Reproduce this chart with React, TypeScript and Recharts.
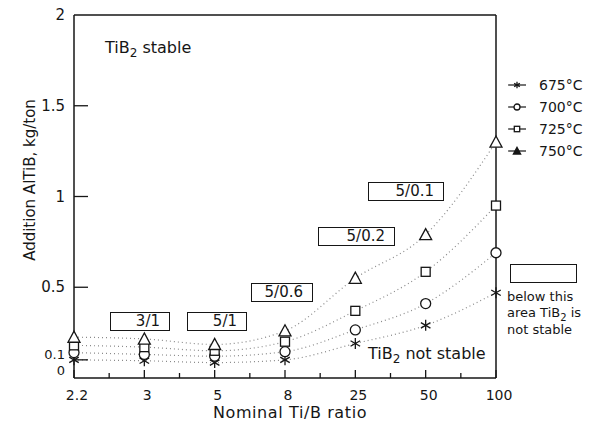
import React from 'react';
import { LineChart, Line, XAxis, YAxis, ReferenceLine } from 'recharts';

// Nominal Ti/B ratio categories (evenly spaced on the axis)
const categories = ['2.2', '3', '5', '8', '25', '50', '100'];

// AlTiB addition, kg/ton, per melt temperature
const t675 = [0.10, 0.095, 0.085, 0.10, 0.19, 0.29, 0.47];
const t700 = [0.14, 0.13, 0.12, 0.145, 0.265, 0.41, 0.69];
const t725 = [0.18, 0.17, 0.15, 0.20, 0.37, 0.585, 0.95];
const t750 = [0.225, 0.215, 0.185, 0.26, 0.55, 0.79, 1.30];

const yTicks = [0, 0.1, 0.5, 1, 1.5, 2];
const xTicks = [0, 0.5, 1, 1.5, 2, 2.5, 3, 3.5, 4, 4.5, 5, 5.5, 6];

const series = [
  { key: 't675', name: '675°C', marker: 'star' },
  { key: 't700', name: '700°C', marker: 'circle' },
  { key: 't725', name: '725°C', marker: 'square' },
  { key: 't750', name: '750°C', marker: 'triangle' },
];

const data = categories.map((c, i) => ({
  i,
  label: c,
  t675: t675[i],
  t700: t700[i],
  t725: t725[i],
  t750: t750[i],
}));

const INK = '#161616';
const FONT = '"DejaVu Sans", sans-serif';

const Marker = ({ kind, cx, cy, s = 1, filled = false }: any) => {
  const sw = 1.3;
  if (kind === 'star') {
    const r = 5.5 * s;
    return (
      <g stroke={INK} strokeWidth={sw}>
        {[90, 30, 150].map((a) => {
          const dx = r * Math.cos((a * Math.PI) / 180);
          const dy = r * Math.sin((a * Math.PI) / 180);
          return <line key={a} x1={cx - dx} y1={cy - dy} x2={cx + dx} y2={cy + dy} />;
        })}
      </g>
    );
  }
  if (kind === 'circle') {
    return <circle cx={cx} cy={cy} r={5 * s} fill={filled ? INK : '#fff'} stroke={INK} strokeWidth={sw} />;
  }
  if (kind === 'square') {
    const h = 4.5 * s;
    return <rect x={cx - h} y={cy - h} width={2 * h} height={2 * h} fill={filled ? INK : '#fff'} stroke={INK} strokeWidth={sw} />;
  }
  const h = 6 * s;
  return (
    <polygon
      points={`${cx},${cy - h} ${cx - h},${cy + h * 0.85} ${cx + h},${cy + h * 0.85}`}
      fill={filled ? INK : '#fff'}
      stroke={INK}
      strokeWidth={sw}
    />
  );
};

const XTick = ({ x, y, payload }: any) => {
  const v = payload.value;
  const major = Number.isInteger(v);
  return (
    <g>
      <line x1={x} x2={x} y1={y} y2={y - (major ? 8 : 5)} stroke={INK} strokeWidth={1.3} />
      {major && (
        <text x={x + 3} y={y + 22} textAnchor="middle" fontSize={14} fontFamily={FONT} fill={INK}>
          {categories[v]}
        </text>
      )}
    </g>
  );
};

const YTick = ({ x, y, payload }: any) => {
  const v = payload.value;
  const dy = v === 0 ? -8 : v === 0.1 ? -6 : 0;
  return (
    <g>
      {v > 0 && v < 2 && <line x1={x} x2={x + 14} y1={y} y2={y} stroke={INK} strokeWidth={1.3} />}
      <text x={x - 9} y={y + dy + 5} textAnchor="end" fontSize={v < 0.5 ? 13 : 15} fontFamily={FONT} fill={INK}>
        {v}
      </text>
    </g>
  );
};

const boxStyle = (left: number, top: number, width: number): React.CSSProperties => ({
  position: 'absolute',
  left,
  top,
  width,
  height: 19,
  border: `1.5px solid ${INK}`,
  boxSizing: 'border-box',
  fontFamily: FONT,
  fontSize: 15,
  color: INK,
  textAlign: 'right',
  paddingRight: 9,
  lineHeight: '16px',
  background: '#fff',
});

const text = (left: number, top: number, size: number): React.CSSProperties => ({
  position: 'absolute',
  left,
  top,
  fontFamily: FONT,
  fontSize: size,
  color: INK,
  whiteSpace: 'nowrap',
  lineHeight: 1,
});

const Sub = ({ size }: { size: number }) => (
  <span style={{ fontSize: size, position: 'relative', top: size * 0.35 }}>2</span>
);

export default function App() {
  return (
    <div style={{ position: 'absolute', left: 0, top: 0, width: 602, height: 427, background: '#fff', overflow: 'hidden' }}>
      <LineChart width={602} height={427} data={data} margin={{ top: 15, right: 106, bottom: 19, left: 14 }}>
        <XAxis
          dataKey="i"
          type="number"
          domain={[0, 6]}
          ticks={xTicks}
          interval={0}
          tickSize={0}
          tickMargin={0}
          tickLine={false}
          tick={<XTick />}
          height={30}
          axisLine={{ stroke: INK, strokeWidth: 1.5 }}
        />
        <YAxis
          type="number"
          domain={[0, 2]}
          ticks={yTicks}
          interval={0}
          tickSize={0}
          tickMargin={0}
          tickLine={false}
          tick={<YTick />}
          width={60}
          axisLine={{ stroke: INK, strokeWidth: 1.5 }}
        />
        <ReferenceLine y={2} stroke={INK} strokeWidth={1.5} />
        <ReferenceLine x={6} stroke={INK} strokeWidth={1.5} />
        {series.map((s) => (
          <Line
            key={s.key}
            dataKey={s.key}
            name={s.name}
            type="monotone"
            stroke="#8a8a8a"
            strokeWidth={1.2}
            strokeDasharray="1 3"
            isAnimationActive={false}
            dot={(p: any) => <Marker key={`${s.key}-${p.index}`} kind={s.marker} cx={p.cx} cy={p.cy} />}
            activeDot={false}
          />
        ))}
      </LineChart>

      {/* legend */}
      <div style={{ position: 'absolute', left: 505, top: 74, fontFamily: FONT, fontSize: 14, color: INK }}>
        {series.map((s) => (
          <div key={s.key} style={{ display: 'flex', alignItems: 'center', height: 22 }}>
            <svg width={34} height={14}>
              <line x1={3} x2={21} y1={7} y2={7} stroke={INK} strokeWidth={1.2} />
              <Marker kind={s.marker} cx={12} cy={7} s={0.6} filled={s.marker === 'triangle' || s.marker === 'star'} />
            </svg>
            <span>{s.name}</span>
          </div>
        ))}
      </div>

      <div style={text(105, 40, 16)}>
        TiB<Sub size={12} /> stable
      </div>
      <div style={text(368, 346, 16)}>
        TiB<Sub size={12} /> not stable
      </div>

      <div style={boxStyle(110, 312, 60)}>3/1</div>
      <div style={boxStyle(187, 312, 60)}>5/1</div>
      <div style={boxStyle(251, 283, 62)}>5/0.6</div>
      <div style={boxStyle(318, 227, 77)}>5/0.2</div>
      <div style={boxStyle(368, 182, 76)}>5/0.1</div>
      <div style={{ ...boxStyle(510, 264, 67), height: 19 }} />

      <div style={text(507, 290, 13)}>below this</div>
      <div style={text(507, 306, 13)}>
        area TiB<Sub size={10} /> is
      </div>
      <div style={text(507, 323, 13)}>not stable</div>

      <div style={{ ...text(30, 180, 15), transform: 'translate(-50%, -50%) rotate(-90deg)' }}>
        Addition AlTiB, kg/ton
      </div>
      <div style={{ ...text(290, 413, 16), letterSpacing: 0.6, transform: 'translate(-50%, -50%)' }}>
        Nominal Ti/B ratio
      </div>
    </div>
  );
}
